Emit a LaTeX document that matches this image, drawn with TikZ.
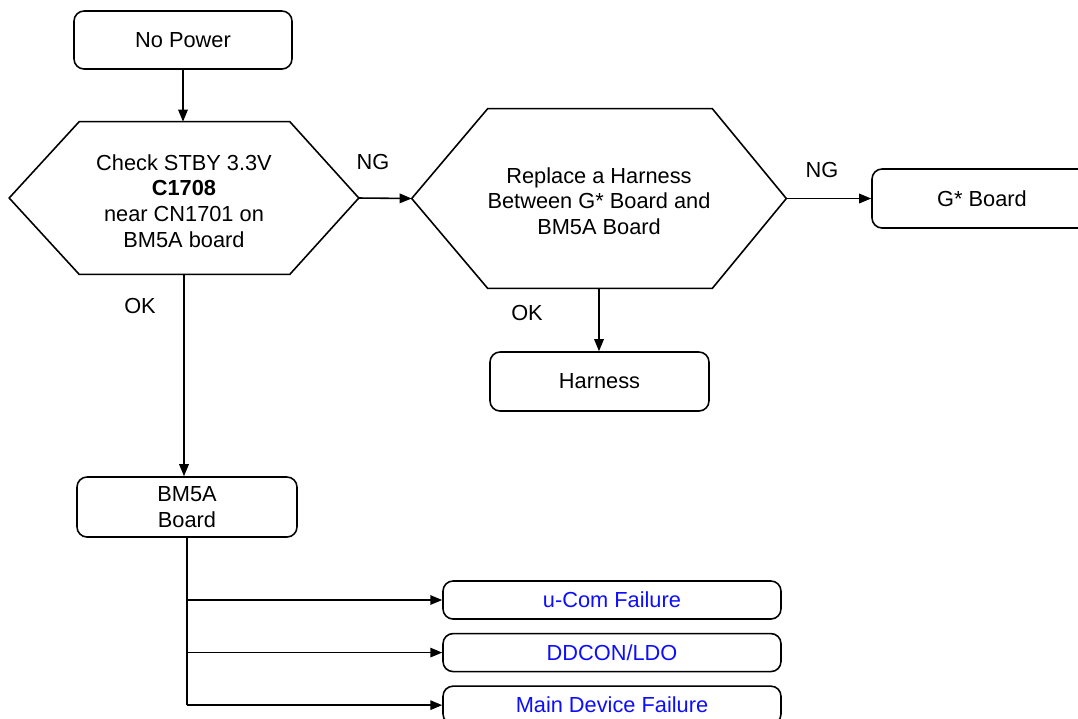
\documentclass[tikz,border=0pt]{standalone}
\usepackage{fontspec}
\setmainfont{Liberation Sans}
\usepackage{tikz}
\usetikzlibrary{arrows.meta,positioning}
\definecolor{linkblue}{rgb}{0.05,0.05,1}

\begin{document}
\begin{tikzpicture}[x=0.02cm,y=-0.02cm]
\tikzstyle{every node}=[font=\fontsize{12.4}{14.6}\selectfont]
\tikzstyle{box}=[draw=black,line width=0.9pt,rounded corners=0.2cm,align=center,inner sep=0pt]
\tikzstyle{hexa}=[align=center,inner sep=0pt]
\tikzstyle{fail}=[box,text=linkblue,minimum width=6.76cm,minimum height=0.76cm]
\tikzstyle{arrow}=[line width=0.9pt,-{Triangle[length=2.4mm,width=1.9mm]}]
\tikzstyle{plain}=[line width=0.9pt]
\useasboundingbox (0,0) rectangle (1078,718);
\node [box,minimum width=4.36cm,minimum height=1.16cm] at (183,40) (power) {No Power};
\node [hexa,minimum width=6.98cm,minimum height=3.04cm] at (184,198) (chk) {};
\node [hexa] at (184,201) (chktext) {Check STBY 3.3V\\\textbf{C1708}\\near CN1701 on\\BM5A board};
\node [hexa,minimum width=7.48cm,minimum height=3.58cm] at (599,198.5) (repl) {};
\node [hexa] at (599,201) (repltext) {Replace a Harness\\Between G* Board and\\BM5A Board};
\node [box,minimum width=4.4cm,minimum height=1.18cm] at (982,198.5) (gboard) {G* Board};
\node [box,minimum width=4.38cm,minimum height=1.18cm] at (599.5,381.5) (harness) {Harness};
\node [box,minimum width=4.4cm,minimum height=1.2cm] at (187,507) (bm5a) {BM5A\\Board};
\node [fail] at (612,600) (ucom) {u-Com Failure};
\node [fail,below=0.26cm of ucom] (ddcon) {DDCON/LDO};
\node [fail,below=0.26cm of ddcon] (maindev) {Main Device Failure};
% hexagon outlines
\draw [plain] ([xshift=1.4cm]chk.north west) -- ([xshift=-1.38cm]chk.north east) -- (chk.east)
  -- ([xshift=-1.38cm]chk.south east) -- ([xshift=1.4cm]chk.south west) -- (chk.west) -- cycle;
\draw [plain] ([xshift=1.52cm]repl.north west) -- ([xshift=-1.48cm]repl.north east) -- (repl.east)
  -- ([xshift=-1.48cm]repl.south east) -- ([xshift=1.52cm]repl.south west) -- (repl.west) -- cycle;
% labels
\node at (373,162) (ng1) {NG};
\node at (822,170) (ng2) {NG};
\node at (140,306) (ok1) {OK};
\node at (527,313) (ok2) {OK};
% connectors
\draw [arrow] (power.south) -- (power.south |- chk.north);
\draw [arrow] (chk.east) -- (repl.west);
\draw [arrow] (repl.east) -- (gboard.west);
\draw [arrow] (repl.south) -- (repl.south |- harness.north);
\draw [arrow] (chk.south) -- (chk.south |- bm5a.north);
\coordinate (tail) at (187,705);
\draw [plain] (bm5a.south) -- (tail);
\draw [arrow] (bm5a.south |- ucom.west) -- (ucom.west);
\draw [arrow] (bm5a.south |- ddcon.west) -- (ddcon.west);
\draw [arrow] (bm5a.south |- maindev.west) -- (maindev.west);
\end{tikzpicture}
\end{document}
